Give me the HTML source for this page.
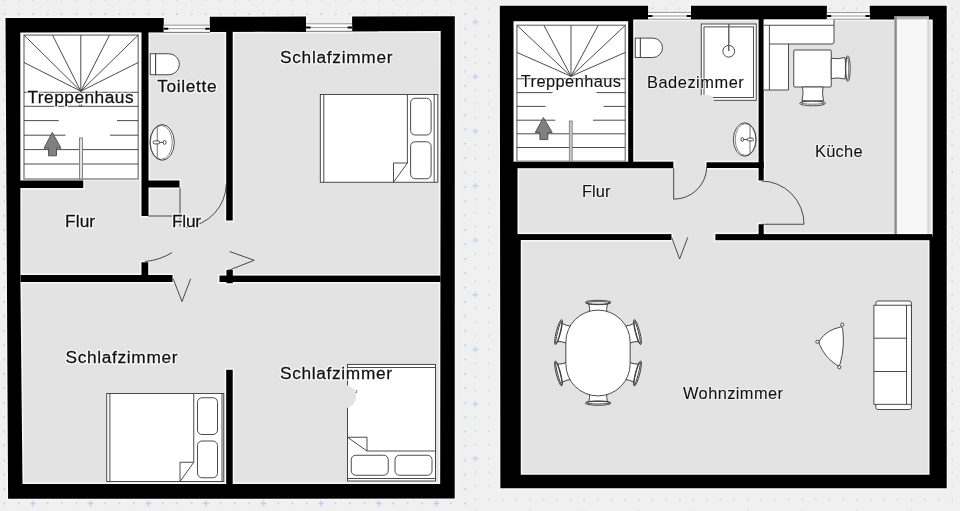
<!DOCTYPE html>
<html><head><meta charset="utf-8"><title>Grundriss</title>
<style>
html,body{margin:0;padding:0;background:#f0f0f0;overflow:hidden}
svg{display:block}
text{font-family:"Liberation Sans",sans-serif}
.h{fill:#fff;stroke:#fff;stroke-width:2.8px;stroke-opacity:.85;stroke-linejoin:round;filter:blur(.5px)}
.hr{stroke-width:2.2px;stroke-opacity:.55}
.t{fill:#111;stroke:#111;stroke-width:.28px}
.tr{stroke-width:.1px}
.w{fill:#000}
.wh{fill:#f7f7f7;stroke:#f7f7f7;stroke-width:3.2px;stroke-linejoin:miter}
.f{fill:#e3e3e3}
.l{fill:none;stroke:#383838;stroke-width:.9}
.wl{fill:#fff;stroke:#383838;stroke-width:.9}
.g{fill:none;stroke:#8a8a8a;stroke-width:.9}
</style></head><body>
<svg width="960" height="511" viewBox="0 0 960 511">
<rect width="960" height="511" fill="#f0f0f0"/>

<g id="grid"><defs><pattern id="pl" patternUnits="userSpaceOnUse" x="25.898" y="438.645" width="57.620" height="57.560"><path d="M4.10 7.20h6.2M7.20 4.10v6.2" stroke="#a9c5e8" stroke-width="1.15" opacity="0.9" fill="none"/><rect x="6.40" y="20.79" width="1.6" height="1.6" fill="#a9c5e8" opacity="0.85"/><rect x="6.40" y="35.18" width="1.6" height="1.6" fill="#a9c5e8" opacity="0.85"/><rect x="6.40" y="49.57" width="1.6" height="1.6" fill="#a9c5e8" opacity="0.85"/><rect x="20.81" y="6.40" width="1.6" height="1.6" fill="#a9c5e8" opacity="0.85"/><rect x="20.81" y="20.79" width="1.6" height="1.6" fill="#a9c5e8" opacity="0.85"/><rect x="20.81" y="35.18" width="1.6" height="1.6" fill="#a9c5e8" opacity="0.85"/><rect x="20.81" y="49.57" width="1.6" height="1.6" fill="#a9c5e8" opacity="0.85"/><rect x="35.21" y="6.40" width="1.6" height="1.6" fill="#a9c5e8" opacity="0.85"/><rect x="35.21" y="20.79" width="1.6" height="1.6" fill="#a9c5e8" opacity="0.85"/><rect x="35.21" y="35.18" width="1.6" height="1.6" fill="#a9c5e8" opacity="0.85"/><rect x="35.21" y="49.57" width="1.6" height="1.6" fill="#a9c5e8" opacity="0.85"/><rect x="49.62" y="6.40" width="1.6" height="1.6" fill="#a9c5e8" opacity="0.85"/><rect x="49.62" y="20.79" width="1.6" height="1.6" fill="#a9c5e8" opacity="0.85"/><rect x="49.62" y="35.18" width="1.6" height="1.6" fill="#a9c5e8" opacity="0.85"/><rect x="49.62" y="49.57" width="1.6" height="1.6" fill="#a9c5e8" opacity="0.85"/></pattern><pattern id="pr" patternUnits="userSpaceOnUse" x="468.488" y="15.280" width="54.500" height="54.560"><path d="M4.01 6.82h5.6M6.81 4.02v5.6" stroke="#a9c5e8" stroke-width="1" opacity="0.8" fill="none"/><rect x="6.06" y="19.71" width="1.5" height="1.5" fill="#a9c5e8" opacity="0.7"/><rect x="6.06" y="33.35" width="1.5" height="1.5" fill="#a9c5e8" opacity="0.7"/><rect x="6.06" y="46.99" width="1.5" height="1.5" fill="#a9c5e8" opacity="0.7"/><rect x="19.69" y="6.07" width="1.5" height="1.5" fill="#a9c5e8" opacity="0.7"/><rect x="19.69" y="19.71" width="1.5" height="1.5" fill="#a9c5e8" opacity="0.7"/><rect x="19.69" y="33.35" width="1.5" height="1.5" fill="#a9c5e8" opacity="0.7"/><rect x="19.69" y="46.99" width="1.5" height="1.5" fill="#a9c5e8" opacity="0.7"/><rect x="33.31" y="6.07" width="1.5" height="1.5" fill="#a9c5e8" opacity="0.7"/><rect x="33.31" y="19.71" width="1.5" height="1.5" fill="#a9c5e8" opacity="0.7"/><rect x="33.31" y="33.35" width="1.5" height="1.5" fill="#a9c5e8" opacity="0.7"/><rect x="33.31" y="46.99" width="1.5" height="1.5" fill="#a9c5e8" opacity="0.7"/><rect x="46.94" y="6.07" width="1.5" height="1.5" fill="#a9c5e8" opacity="0.7"/><rect x="46.94" y="19.71" width="1.5" height="1.5" fill="#a9c5e8" opacity="0.7"/><rect x="46.94" y="33.35" width="1.5" height="1.5" fill="#a9c5e8" opacity="0.7"/><rect x="46.94" y="46.99" width="1.5" height="1.5" fill="#a9c5e8" opacity="0.7"/></pattern></defs><rect x="0" y="0" width="470" height="511" fill="url(#pl)"/><rect x="470" y="0" width="490" height="511" fill="url(#pr)"/></g>
<g id="left">
<path class="f" d="M19 31.5 L441 30 L441 485 L21 485 Z"/>
<defs><g id="wallsL">
<path fill-rule="evenodd" d="M5.5 18 H163.75 V33 H209.8 V16.8 L306 16.5 V32 H352.1 V16.4 L454.8 16.2 L454.7 498.5 L8.1 498.8 Z M20.3 32.6 L440.7 31 L440.2 484 L22.5 484 L20.4 282Z"/>
<rect x="141.5" y="32" width="7" height="184"/>
<rect x="20" y="180.5" width="63.25" height="7.5"/>
<rect x="148" y="180.5" width="31.5" height="7"/>
<rect x="226.2" y="31" width="6.5" height="189.5"/>
<rect x="20.5" y="275" width="152" height="7"/>
<rect x="141.5" y="262.3" width="6.7" height="14"/>
<rect x="219.5" y="275.6" width="221" height="6.4"/>
<rect x="226.5" y="269.8" width="6.3" height="13.4"/>
<rect x="226.2" y="369.8" width="6.5" height="115"/>
</g></defs>
<use href="#wallsL" class="wh"/>
<!-- stairs bg -->
<rect x="20.3" y="32.6" width="121.2" height="147.9" fill="#fff"/>
<use href="#wallsL" class="w"/>
<!-- windows -->
<rect x="163.75" y="25" width="46" height="7.4" fill="#fff"/>
<path class="g" d="M163.75 25.2H209.8M168 28.7H205.5M163.75 32.3H209.8"/>
<path d="M163.75 28.7h4.5M205.3 28.7h4.5" stroke="#000" stroke-width="2" fill="none"/>
<rect x="306" y="23.6" width="46.1" height="7.6" fill="#fff"/>
<path class="g" d="M306 23.8H352.1M310 27.6H348M306 31.2H352.1"/>
<path d="M306 27.6h4.5M347.6 27.6h4.5" stroke="#000" stroke-width="2" fill="none"/>

<!-- stairs -->
<rect x="24" y="35.1" width="114.2" height="143.9" fill="none" stroke="#8c8c8c" stroke-width="1.5"/>
<g class="l" stroke="#505050" stroke-width="1.05">
<path d="M24 35.1L80.8 91.2M52.5 35.1L80.8 91.2M80.8 35.1V91.2M109.5 35.1L80.8 91.2M138.2 35.1L80.8 91.2M24 62.5L80.8 91.2M138.2 62.5L80.8 91.2"/>
<path d="M24 92.3H138.2M24 106.3H138.2M24 120.6H58.75M117 120.6H138.2M24 135.2H65.5M110 135.2H138.2M24 149.6H138.2M24 164H138.2"/>
<path d="M79.8 104.5v2.5M81.6 104.5v2.5"/>
<rect x="79.5" y="138" width="3" height="41" fill="#e2e2e2" stroke="#7a7a7a" stroke-width=".9"/>
</g>
<path d="M52.3 132.4L61 148.2H56.5V155.8H48.5V148.2H44Z" fill="#808080" stroke="#4a4a4a" stroke-width=".9"/>

<!-- thin lines / doors -->
<g class="l">
<path d="M180 187.5V226.5M148 216H180"/>
<path d="M226.2 184A45.5 44 0 0 1 186 227.5"/>
<path d="M145 261.6Q160 260 172 252.6"/>
<path d="M229.5 251.5L254.25 260.25L227.5 270.75"/>
<path d="M173 278.5L182 301.5L190.7 278.7"/>
</g>

<!-- toilet -->
<g class="wl">
<path d="M155.6 53.75H168.9A10.5 10.5 0 0 1 168.9 74.75H155.6Z"/>
<rect x="150.25" y="53.75" width="5.35" height="21"/>
</g>
<!-- sink -->
<g class="wl">
<ellipse cx="162.15" cy="142.4" rx="12.15" ry="17.9"/>
<ellipse cx="161.3" cy="142.4" rx="11" ry="17" fill="none" stroke-width=".6"/>
<path d="M157.25 126.6V158.2" fill="none" stroke-width=".7"/>
<path d="M158 142.4H163" fill="none"/><rect x="153.1" y="140.9" width="6.6" height="3" rx="1.5"/><ellipse cx="164.6" cy="142.4" rx="1.4" ry="2"/>
</g>

<!-- bed 1 -->
<g class="wl">
<rect x="320.3" y="94.5" width="117.5" height="87.75"/>
<path d="M323.8 94.5V182.25M434.2 94.5V182.25M407.4 94.5V163M393.5 182.25V163H407.4L393.5 182.25" fill="none"/>
<rect x="410.6" y="98.25" width="20.5" height="36.75" rx="4.5"/>
<rect x="410.6" y="141.75" width="20.5" height="37" rx="4.5"/>
</g>
<!-- bed 2 -->
<g class="wl">
<rect x="106.75" y="393.5" width="117" height="88"/>
<path d="M109.9 393.5V481.5M222 393.5V481.5M193.75 393.5V462.25M180 481.5V462.25H193.75L180 481.5" fill="none"/>
<rect x="197.5" y="397.75" width="20" height="36.75" rx="4.5"/>
<rect x="197.5" y="441" width="20" height="36.75" rx="4.5"/>
</g>
<!-- bed 3 -->
<g class="wl">
<rect x="347.5" y="364.4" width="88" height="116.6"/>
<path d="M347.5 367.5H435.5M347.5 478.5H435.5M367 451H435.5M347.5 437.25H367V451L347.5 437.25" fill="none"/>
<rect x="351.25" y="455.25" width="37" height="20" rx="4.5"/>
<rect x="395" y="455.25" width="37" height="20" rx="4.5"/>
</g>
<circle cx="344.5" cy="396.5" r="11.5" fill="#e3e3e3"/>
<path d="M355.6 390.6h1.6l-1.6 2h1.6" stroke="#333" stroke-width=".5" fill="none"/>

</g>

<defs><g id="ch"><path class="wl" d="M-9.4 -7.2Q-8 -3 -8.8 2.5H8.8Q8 -3 9.4 -7.2Z"/><ellipse class="wl" cx="0" cy="-8.5" rx="12.9" ry="2.2"/><ellipse class="l" cx="0" cy="-8.1" rx="11.8" ry="1.3" stroke-width=".7"/></g></defs>
<g id="right" class="r">
<rect class="f" x="512" y="18" width="422" height="458"/>
<defs><g id="wallsR">
<path fill-rule="evenodd" d="M499.8 5.85H648.1V19.4H691V5.85H826.9V19.4H869.75V5.85H946.7V488.2H500.4Z M513.5 19.4H932.75V236.5H929.5V474.8H520.75V237H517.5V165H513.5Z"/>
<rect x="513" y="19" width="116" height="2.2"/>
<rect x="628.2" y="19" width="5" height="144"/>
<rect x="513" y="161.7" width="160.4" height="6.5"/>
<rect x="706.5" y="162.3" width="57.2" height="5.7"/>
<rect x="758.6" y="19" width="5.1" height="161.5"/>
<rect x="758.6" y="224.25" width="5.1" height="11"/>
<rect x="517" y="234.1" width="154.4" height="5.9"/>
<rect x="715.4" y="234.1" width="217" height="6.1"/>
</g></defs>
<use href="#wallsR" class="wh"/>
<rect x="513.5" y="21.2" width="114.7" height="140.5" fill="#fff"/>
<use href="#wallsR" class="w"/>
<!-- windows -->
<rect x="648.1" y="12.2" width="42.9" height="7.2" fill="#fff"/>
<path class="g" d="M648.1 12.4H691M652 16H687M648.1 19.2H691"/>
<path d="M648.1 16h4.3M686.7 16h4.3" stroke="#000" stroke-width="1.9" fill="none"/>
<rect x="826.9" y="12.4" width="42.9" height="7" fill="#fff"/>
<path class="g" d="M826.9 12.6H869.75M831 16H866M826.9 19.2H869.75"/>
<path d="M826.9 16h4.3M865.5 16h4.3" stroke="#000" stroke-width="1.9" fill="none"/>

<!-- stairs -->
<rect x="516.9" y="25.3" width="108.4" height="136" fill="none" stroke="#8c8c8c" stroke-width="1.5"/>
<g class="l" stroke="#505050" stroke-width="1.05">
<path d="M516.9 25.3L571 76.3M543.9 25.3L571 76.3M571 25.3V76.3M598.2 25.3L571 76.3M625.3 25.3L571 76.3M516.9 52.4L571 76.3M625.3 52.4L571 76.3"/>
<path d="M516.9 78.8H625.3M516.9 92.6H552.5M596.5 92.6H625.3M516.9 106.4H545.5M603.6 106.4H625.3M516.9 120.2H555.2M593 120.2H625.3M516.9 133.8H625.3M516.9 147.5H625.3"/>
<rect x="569.3" y="121" width="2.9" height="40.5" fill="#c8c8c8" stroke="#777" stroke-width=".8"/>
</g>
<path d="M543.4 117.6L552.2 132.5H547.8V139.6H539.9V132.5H535.3Z" fill="#808080" stroke="#4a4a4a" stroke-width=".9"/>

<!-- doors -->
<g class="l">
<path d="M673.7 168V199.2M673.7 199.2A33 32.5 0 0 0 706.7 167"/>
<path d="M761.5 224.25H804M804 224.25A43 43 0 0 0 761.5 181"/>
<path d="M671.6 237.3L679.6 259L687.8 237.3"/>
</g>

<!-- toilet -->
<g class="wl">
<path d="M640.25 38.1H652.8A9.7 9.7 0 0 1 652.8 57.5H640.25Z"/>
<rect x="635.25" y="38.1" width="5" height="19.4"/>
</g>
<!-- shower -->
<g class="wl">
<rect x="701.25" y="24" width="55" height="76.3"/>
<rect x="704" y="26.9" width="49.6" height="70.6" fill="none"/>
<circle cx="728.75" cy="51.25" r="5.9" fill="none"/>
</g>
<path d="M728.75 24V51" stroke="#666" stroke-width="1.5" fill="none"/>
<ellipse cx="705" cy="100" rx="9" ry="5.5" fill="#e3e3e3"/>
<!-- sink -->
<g class="wl">
<ellipse cx="744.75" cy="139.5" rx="11.4" ry="16.75"/>
<ellipse cx="745.5" cy="139.5" rx="10.3" ry="15.9" fill="none" stroke-width=".6"/>
<path d="M750 124.8V154.2" fill="none" stroke-width=".7"/>
<path d="M744 139.5H749" fill="none"/><rect x="747.3" y="138.1" width="6.2" height="2.8" rx="1.4"/><ellipse cx="742.3" cy="139.5" rx="1.3" ry="1.9"/>
</g>

<!-- kitchen -->
<g class="wl">
<path d="M763.75 19.4H834V44H788.5V90H763.75Z" stroke="none"/>
<path d="M763.75 25.25H834M769.4 25.25V90M834 19.4V42Q834 44 832 44H769.4M788.5 44V90H763.75" fill="none"/>
<rect x="793.75" y="50" width="37.5" height="37" rx="1"/>
<path d="M831.25 58.3Q838 59.5 845 57.5Q847 68 845 79Q838 77.2 831.25 78.5Z"/>
<ellipse cx="847.8" cy="68.6" rx="2.4" ry="12.9"/><ellipse cx="847.3" cy="68.6" rx="1.4" ry="11.8" fill="none" stroke-width=".7"/>
<path d="M802.6 87Q803.8 94 802 100.5Q812.5 102.5 823.5 100.5Q821.8 94 823 87Z"/>
<ellipse cx="812.6" cy="103.3" rx="12.9" ry="2.5"/><ellipse cx="812.6" cy="102.8" rx="11.8" ry="1.4" fill="none" stroke-width=".7"/>
</g>
<!-- tall unit -->
<rect x="894.4" y="16.2" width="34.3" height="217.8" fill="#fff" fill-opacity=".72"/>
<path d="M895.6 16.2V234" stroke="#8c8c8c" stroke-width="2.4" fill="none"/>
<path d="M928.1 16.2V234" stroke="#c6c6c6" stroke-width="1.2" fill="none"/>

<!-- dining -->
<use href="#ch" transform="translate(598.15 311)"/>
<use href="#ch" transform="translate(598.15 394.6) rotate(180)"/>
<use href="#ch" transform="translate(566.7 334.2) rotate(-75.6)"/>
<use href="#ch" transform="translate(566.7 371.4) rotate(-104.4)"/>
<use href="#ch" transform="translate(629.3 334.2) rotate(75.6)"/>
<use href="#ch" transform="translate(629.3 371.4) rotate(104.4)"/>
<path class="wl" d="M565.85 342A32.15 31.9 0 0 1 630.15 342V364A32.15 31.9 0 0 1 565.85 364Z"/>

<!-- armchair -->
<g class="wl">
<path d="M840.6 327Q826.5 330 819.8 340.2Q818.6 342 819.5 344.5Q825 357.5 836.8 365.2Q839.6 366.6 840.3 363.4Q845 346 842.6 328.6Q842.3 326.6 840.6 327Z"/>
<circle cx="842.2" cy="324.6" r="1.6"/><circle cx="817.4" cy="341.8" r="1.6"/><circle cx="839.3" cy="367.2" r="1.6"/>
</g>
<!-- sofa -->
<g class="wl">
<rect x="875.9" y="301" width="35.5" height="108.5" rx="2"/>
<rect x="873.9" y="305.2" width="37.5" height="99.1"/>
<path d="M906.5 305.2V404.3M873.9 338.2H906.5M873.9 371.5H906.5" fill="none"/>
</g>

</g>

<g id="labels" style="opacity:.999">
<text class="h" x="27.4" y="102.7" font-size="17.3" textLength="106.2" lengthAdjust="spacing">Treppenhaus</text>
<text class="t" x="27.4" y="102.7" font-size="17.3" textLength="106.2" lengthAdjust="spacing">Treppenhaus</text>
<text class="h" x="157.3" y="92" font-size="17.3" textLength="59.3" lengthAdjust="spacing">Toilette</text>
<text class="t" x="157.3" y="92" font-size="17.3" textLength="59.3" lengthAdjust="spacing">Toilette</text>
<text class="h" x="280" y="62.5" font-size="17.3" textLength="112.5" lengthAdjust="spacing">Schlafzimmer</text>
<text class="t" x="280" y="62.5" font-size="17.3" textLength="112.5" lengthAdjust="spacing">Schlafzimmer</text>
<text class="h" x="65.1" y="226.9" font-size="17.3" textLength="30" lengthAdjust="spacing">Flur</text>
<text class="t" x="65.1" y="226.9" font-size="17.3" textLength="30" lengthAdjust="spacing">Flur</text>
<text class="h" x="172" y="226.75" font-size="17.3" textLength="29" lengthAdjust="spacing">Flur</text>
<text class="t" x="172" y="226.75" font-size="17.3" textLength="29" lengthAdjust="spacing">Flur</text>
<text class="h" x="65.5" y="363" font-size="17.3" textLength="112" lengthAdjust="spacing">Schlafzimmer</text>
<text class="t" x="65.5" y="363" font-size="17.3" textLength="112" lengthAdjust="spacing">Schlafzimmer</text>
<text class="h" x="280" y="379" font-size="17.3" textLength="112" lengthAdjust="spacing">Schlafzimmer</text>
<text class="t" x="280" y="379" font-size="17.3" textLength="112" lengthAdjust="spacing">Schlafzimmer</text>
<text class="h hr" x="520.8" y="87.3" font-size="16.4" textLength="100.2" lengthAdjust="spacing">Treppenhaus</text>
<text class="t tr" x="520.8" y="87.3" font-size="16.4" textLength="100.2" lengthAdjust="spacing">Treppenhaus</text>
<text class="h hr" x="647" y="87.5" font-size="16.4" textLength="96.75" lengthAdjust="spacing">Badezimmer</text>
<text class="t tr" x="647" y="87.5" font-size="16.4" textLength="96.75" lengthAdjust="spacing">Badezimmer</text>
<text class="h hr" x="582" y="197.25" font-size="16.4" textLength="28.5" lengthAdjust="spacing">Flur</text>
<text class="t tr" x="582" y="197.25" font-size="16.4" textLength="28.5" lengthAdjust="spacing">Flur</text>
<text class="h hr" x="815" y="157.25" font-size="16.4" textLength="47.5" lengthAdjust="spacing">Küche</text>
<text class="t tr" x="815" y="157.25" font-size="16.4" textLength="47.5" lengthAdjust="spacing">Küche</text>
<text class="h hr" x="683" y="398.5" font-size="16.4" textLength="100" lengthAdjust="spacing">Wohnzimmer</text>
<text class="t tr" x="683" y="398.5" font-size="16.4" textLength="100" lengthAdjust="spacing">Wohnzimmer</text>
</g>
</svg>
</body></html>
